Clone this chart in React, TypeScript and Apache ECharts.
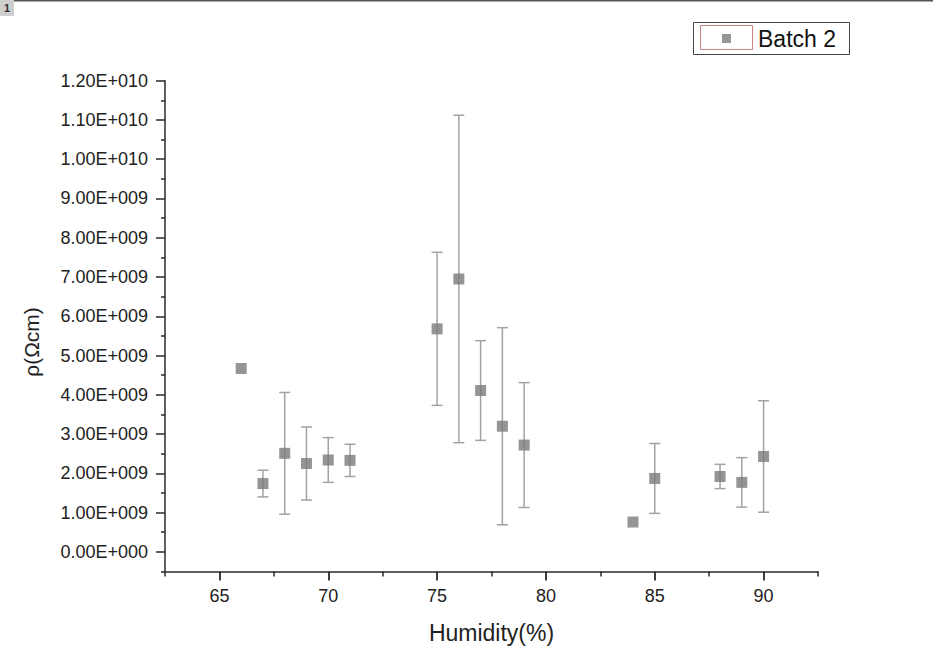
import React, { useEffect, useRef } from "react";
import * as echarts from "echarts";

const humidity = [66, 67, 68, 69, 70, 71, 75, 76, 77, 78, 79, 84, 85, 88, 89, 90];
const rho = [4.67e9, 1.74e9, 2.51e9, 2.25e9, 2.34e9, 2.33e9, 5.68e9, 6.95e9, 4.11e9, 3.2e9, 2.72e9, 0.76e9, 1.87e9, 1.92e9, 1.77e9, 2.43e9];
const rhoErr = [0, 0.34e9, 1.55e9, 0.93e9, 0.57e9, 0.41e9, 1.95e9, 4.17e9, 1.27e9, 2.51e9, 1.59e9, 0, 0.89e9, 0.31e9, 0.63e9, 1.42e9];

const xTicks = [65, 70, 75, 80, 85, 90];
const xMinorTicks = [62.5, 67.5, 72.5, 77.5, 82.5, 87.5, 92.5];
const yTicks = [0, 1e9, 2e9, 3e9, 4e9, 5e9, 6e9, 7e9, 8e9, 9e9, 10e9, 11e9, 12e9];
const yMinorTicks = [-0.5e9, 0.5e9, 1.5e9, 2.5e9, 3.5e9, 4.5e9, 5.5e9, 6.5e9, 7.5e9, 8.5e9, 9.5e9, 10.5e9, 11.5e9];

const seriesName = "Batch 2";
const xName = "Humidity(%)";
const yName = "ρ(Ωcm)";

const FONT = "'Liberation Sans', Arial, sans-serif";

function sci(v: number): string {
  if (v === 0) return "0.00E+000";
  const e = Math.floor(Math.log10(Math.abs(v)) + 1e-9);
  const m = v / Math.pow(10, e);
  return m.toFixed(2) + "E" + (e >= 0 ? "+" : "-") + String(Math.abs(e)).padStart(3, "0");
}

export default function App() {
  const ref = useRef<HTMLDivElement>(null);
  useEffect(() => {
    if (!ref.current) return;
    const chart = echarts.init(ref.current, undefined, { renderer: "svg" });
    const points = humidity.map((h, i) => [h, rho[i]]);
    const errData = humidity.map((h, i) => [h, rho[i], rhoErr[i]]);
    const axisColor = "#2a2a2a";
    const option: any = {
      animation: false,
      backgroundColor: "#ffffff",
      grid: { left: 165, right: 115, top: 80.7, bottom: 98.5, containLabel: false },
      legend: {
        data: [seriesName],
        left: 722,
        top: 27,
        padding: 0,
        itemWidth: 9,
        itemHeight: 9,
        icon: "rect",
        textStyle: { fontSize: 23, fontFamily: FONT, color: "#111", padding: [0, 0, 0, 22], lineHeight: 23 },
      },
      xAxis: [
        {
          type: "value",
          min: 62.5,
          max: 92.5,
          position: "bottom",
          name: xName,
          nameLocation: "middle",
          nameGap: 50,
          nameTextStyle: { fontSize: 23, fontFamily: FONT, color: "#222" },
          axisLine: { show: true, onZero: false, lineStyle: { color: axisColor, width: 1.5 } },
          axisTick: { show: true, inside: false, length: 9, customValues: xTicks, lineStyle: { color: axisColor, width: 1.8 } },
          axisLabel: { show: true, customValues: xTicks, margin: 15, fontSize: 18, fontFamily: FONT, color: "#222" },
          splitLine: { show: false },
        },
        {
          type: "value",
          min: 62.5,
          max: 92.5,
          position: "bottom",
          axisLine: { show: false, onZero: false },
          axisTick: { show: true, inside: false, length: 5, customValues: xMinorTicks, lineStyle: { color: axisColor, width: 1.5 } },
          axisLabel: { show: false },
          splitLine: { show: false },
        },
      ],
      yAxis: [
        {
          type: "value",
          min: -0.5e9,
          max: 12e9,
          position: "left",
          axisLine: { show: true, onZero: false, lineStyle: { color: axisColor, width: 1.5 } },
          axisTick: { show: true, inside: false, length: 9, customValues: yTicks, lineStyle: { color: axisColor, width: 1.5 } },
          axisLabel: { show: true, customValues: yTicks, margin: 17, fontSize: 18, fontFamily: FONT, color: "#222", formatter: (v: number) => sci(v) },
          splitLine: { show: false },
        },
        {
          type: "value",
          min: -0.5e9,
          max: 12e9,
          position: "left",
          axisLine: { show: false, onZero: false },
          axisTick: { show: true, inside: false, length: 4, customValues: yMinorTicks, lineStyle: { color: axisColor, width: 1.5 } },
          axisLabel: { show: false },
          splitLine: { show: false },
        },
      ],
      series: [
        {
          type: "custom",
          name: "error",
          xAxisIndex: 0,
          yAxisIndex: 0,
          z: 1,
          silent: true,
          data: errData,
          encode: { x: 0, y: 1 },
          renderItem: (params: any, api: any) => {
            const x = api.value(0);
            const y = api.value(1);
            const e = api.value(2);
            if (!e) return { type: "group", children: [] };
            const top = api.coord([x, y + e]);
            const bot = api.coord([x, y - e]);
            const hw = 5.5;
            const style = { stroke: "#a3a3a3", lineWidth: 1.5 };
            return {
              type: "group",
              children: [
                { type: "line", shape: { x1: top[0], y1: top[1], x2: bot[0], y2: bot[1] }, style },
                { type: "line", shape: { x1: top[0] - hw, y1: top[1], x2: top[0] + hw, y2: top[1] }, style },
                { type: "line", shape: { x1: bot[0] - hw, y1: bot[1], x2: bot[0] + hw, y2: bot[1] }, style },
              ],
            };
          },
        },
        {
          type: "scatter",
          name: seriesName,
          xAxisIndex: 0,
          yAxisIndex: 0,
          z: 3,
          symbol: "rect",
          symbolSize: 11,
          itemStyle: { color: "#7a7a7a" },
          data: points,
        },
      ],
      graphic: [
        { type: "rect", shape: { x: 0, y: 0, width: 14, height: 16 }, style: { fill: "#cfcfcf" } },
        { type: "text", x: 7, y: 8, style: { text: "1", fontSize: 11, fontWeight: "bold", fontFamily: FONT, fill: "#333", align: "center", verticalAlign: "middle" } },
        { type: "line", shape: { x1: 14, y1: 0.75, x2: 933, y2: 0.75 }, style: { stroke: "#555", lineWidth: 1.5 } },
        { type: "rect", shape: { x: 693.5, y: 22.5, width: 156, height: 32 }, style: { fill: "none", stroke: "#444", lineWidth: 1 } },
        { type: "rect", shape: { x: 700.5, y: 25.5, width: 52, height: 24 }, style: { fill: "none", stroke: "#c98383", lineWidth: 1 } },
        {
          type: "text",
          x: 31,
          y: 342,
          rotation: Math.PI / 2,
          style: { text: yName, fontSize: 21, fontFamily: FONT, fill: "#222", align: "center", verticalAlign: "middle" },
        },
      ],
    };
    chart.setOption(option);
    return () => chart.dispose();
  }, []);
  return <div ref={ref} style={{ position: "absolute", left: 0, top: 0, width: 933, height: 670 }} />;
}
